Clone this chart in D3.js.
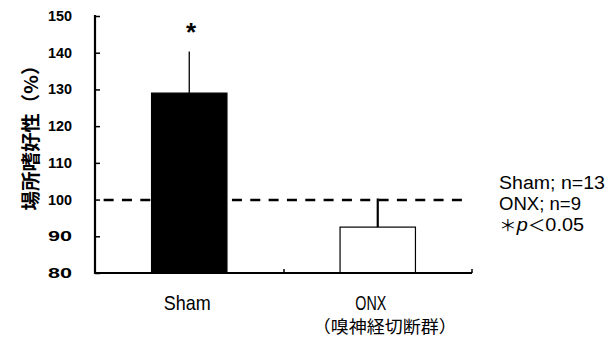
<!DOCTYPE html>
<html><head><meta charset="utf-8">
<script src="https://cdn.jsdelivr.net/npm/d3@7"></script>
<style>body{margin:0;background:#fff}svg{display:block}</style>
</head><body>
<script>
const categories = ["Sham", "ONX"];
const subLabels = ["", "（嗅神経切断群）"];
const means = [129, 92.5];
const errors = [11.3, 7.8];
const fills = ["#000", "#fff"];
const yTicks = [80, 90, 100, 110, 120, 130, 140, 150];
const refValue = 100;
const legendLines = ["Sham; n=13", "ONX; n=9", "＊p＜0.05"];

const W = 615, H = 337;
const svg = d3.select("body").append("svg").attr("width", W).attr("height", H);
const x0 = 95, x1 = 472, yTop = 16, yBot = 273;
const y = d3.scaleLinear().domain([80, 150]).range([yBot, yTop]);
const x = d3.scaleBand().domain(categories).range([x0, x1]).paddingInner(0.6).paddingOuter(0.3);
const sans = "'Liberation Sans', Arial, sans-serif";
const cjk = "'Noto Sans CJK JP', sans-serif";

// reference dashed line
svg.append("line").attr("x1", x0).attr("x2", 462).attr("y1", y(refValue) + 0.5).attr("y2", y(refValue) + 0.5)
  .attr("stroke", "#000").attr("stroke-width", 2.5).attr("stroke-dasharray", "10,8.33").attr("stroke-dashoffset", 9.7);

// bars
svg.selectAll("rect.bar").data(categories).join("rect")
  .attr("x", d => x(d)).attr("width", x.bandwidth())
  .attr("y", (d, i) => y(means[i])).attr("height", (d, i) => y(80) - y(means[i]))
  .attr("fill", (d, i) => fills[i]).attr("stroke", "#000").attr("stroke-width", 1.2);

// error bars
svg.selectAll("line.err").data(categories).join("line")
  .attr("x1", d => x(d) + x.bandwidth() / 2).attr("x2", d => x(d) + x.bandwidth() / 2)
  .attr("y1", (d, i) => y(means[i])).attr("y2", (d, i) => y(means[i] + errors[i]))
  .attr("stroke", "#000").attr("stroke-width", (d, i) => i === 0 ? 1.3 : 2.2);

// axes
const yAxis = d3.axisRight(y).tickValues(yTicks).tickSize(5).tickFormat("");
const gy = svg.append("g").attr("transform", `translate(${x0},0)`).call(yAxis);
gy.select(".domain").remove();
gy.selectAll("line").attr("stroke-width", 1.5);
svg.append("line").attr("x1", x0).attr("x2", x0).attr("y1", yTop - 1).attr("y2", yBot + 1)
  .attr("stroke", "#000").attr("stroke-width", 2.2);
svg.append("line").attr("x1", x0).attr("x2", x1).attr("y1", yBot).attr("y2", yBot)
  .attr("stroke", "#000").attr("stroke-width", 2.2);
[284, x1].forEach(px => svg.append("line").attr("x1", px).attr("x2", px).attr("y1", yBot).attr("y2", yBot - 4)
  .attr("stroke", "#000").attr("stroke-width", 1.5));

// y tick labels
svg.selectAll("text.yt").data(yTicks).join("text")
  .attr("x", 72).attr("y", d => y(d) + 5).attr("text-anchor", "end")
  .attr("font-family", sans).attr("font-weight", "bold").attr("font-size", 14)
  .attr("textLength", 24).attr("lengthAdjust", "spacingAndGlyphs")
  .text(d => d);

// y title
svg.append("text").attr("transform", "translate(31,133) rotate(-90)").attr("text-anchor", "middle")
  .attr("dy", "0.36em").attr("font-family", cjk).attr("font-size", 19).attr("font-weight", 600)
  .attr("textLength", 155).attr("lengthAdjust", "spacingAndGlyphs")
  .text("場所嗜好性（%）");

// asterisk
svg.append("text").attr("x", 191).attr("y", 41).attr("text-anchor", "middle")
  .attr("font-family", sans).attr("font-weight", "bold").attr("font-size", 26).text("*");

// category labels
const catW = [47, 31];
const catDx = [-2, -7];
svg.selectAll("text.cat").data(categories).join("text")
  .attr("x", (d, i) => x(d) + x.bandwidth() / 2 + catDx[i]).attr("y", 310).attr("text-anchor", "middle")
  .attr("font-family", sans).attr("font-size", 21)
  .attr("textLength", (d, i) => catW[i]).attr("lengthAdjust", "spacingAndGlyphs")
  .text(d => d);
svg.selectAll("text.sub").data(categories.filter((d, i) => subLabels[i])).join("text")
  .attr("x", d => x(d) + x.bandwidth() / 2 + 7).attr("y", 333).attr("text-anchor", "middle")
  .attr("font-family", cjk).attr("font-size", 17)
  .attr("textLength", 144).attr("lengthAdjust", "spacingAndGlyphs")
  .text(d => subLabels[categories.indexOf(d)]);

// legend
const legW = [106, 82, 85];
const leg = svg.selectAll("text.leg").data(legendLines).join("text")
  .attr("x", 499).attr("y", (d, i) => 188.5 + i * 21)
  .attr("font-family", sans).attr("font-size", 18)
  .attr("textLength", (d, i) => legW[i]).attr("lengthAdjust", "spacingAndGlyphs");
leg.filter((d, i) => i < 2).text(d => d);
leg.filter((d, i) => i === 2).each(function (d) {
  const t = d3.select(this);
  t.append("tspan").attr("font-family", cjk).attr("font-size", 16).text(d.slice(0, 1));
  t.append("tspan").attr("font-style", "italic").text(d.slice(1, 2));
  t.append("tspan").attr("font-family", cjk).attr("font-size", 16).text(d.slice(2, 3));
  t.append("tspan").text(d.slice(3));
});
</script>
</body></html>
